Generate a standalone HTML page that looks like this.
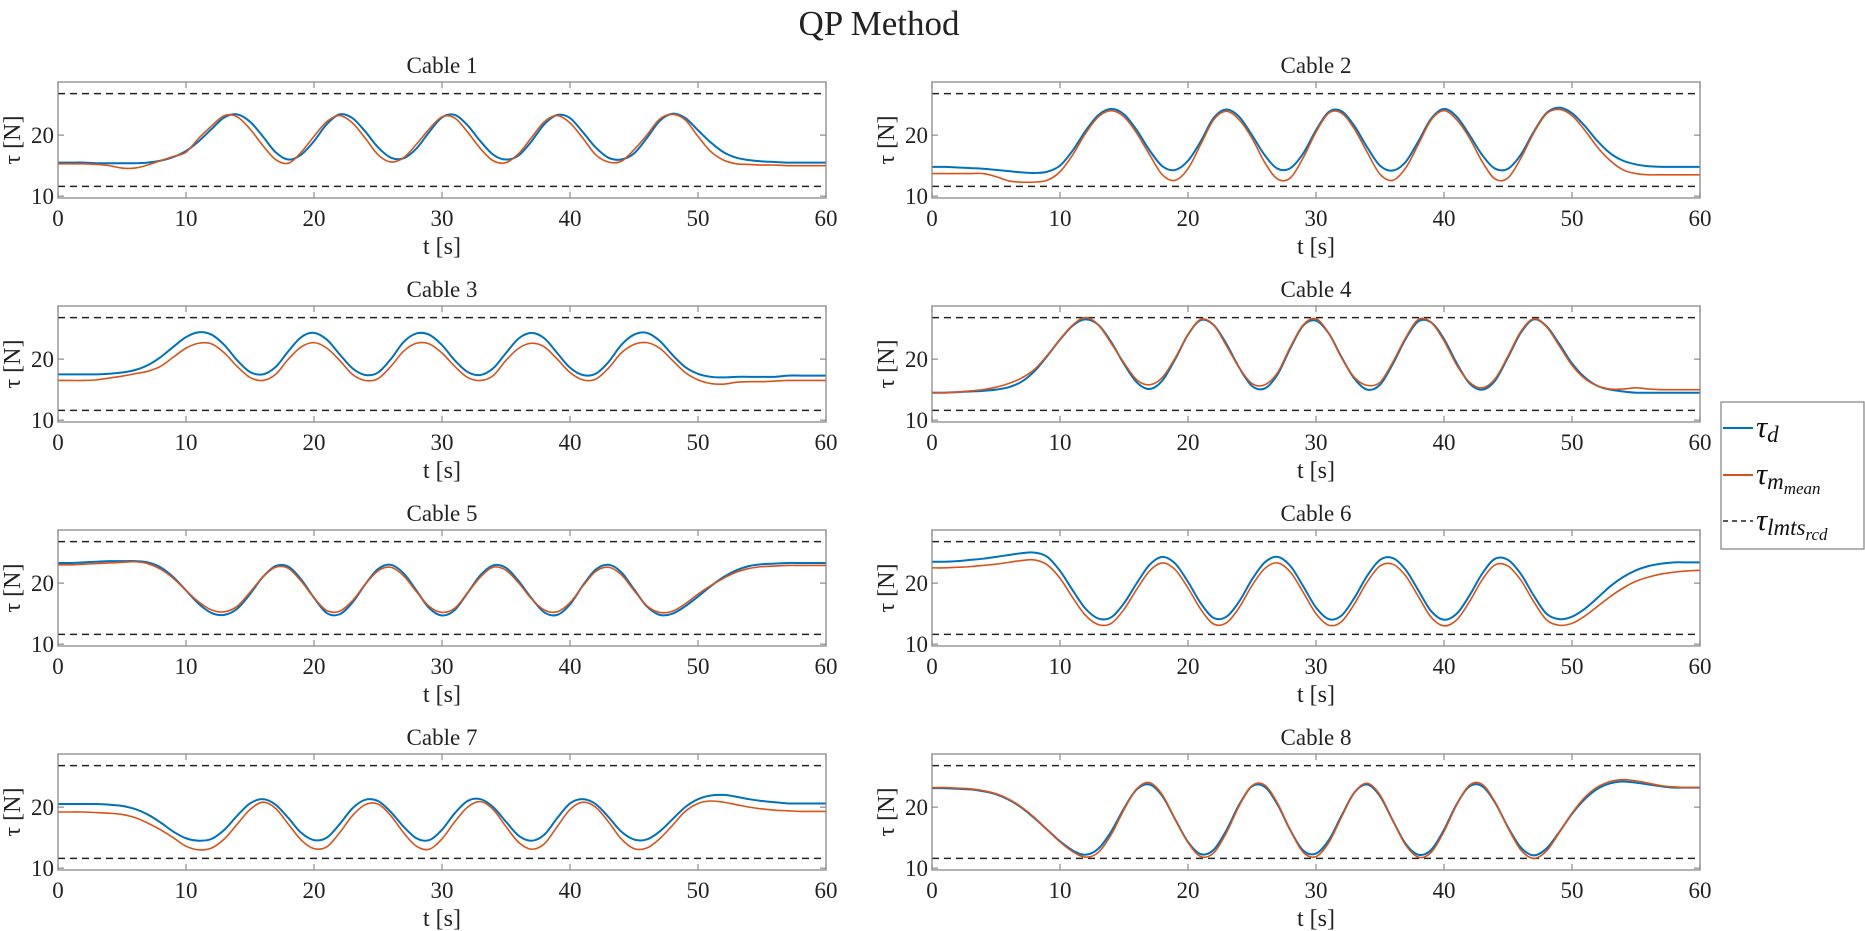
<!DOCTYPE html>
<html><head><meta charset="utf-8"><style>
html,body{margin:0;padding:0;background:#fff}
svg{display:block;font-family:"Liberation Serif",serif}
</style></head><body>
<svg id="chart" width="1865" height="931" viewBox="0 0 1865 931" xmlns="http://www.w3.org/2000/svg">
<text x="879" y="35" font-size="35" text-anchor="middle" fill="#222">QP Method</text>
<g id="plots"></g>
<g>
<rect x="1721" y="402" width="143" height="147" fill="#fff" stroke="#8a8a8a" stroke-width="1.3"/>
<g>
<line x1="1723" y1="428" x2="1753" y2="428" stroke="#0072BD" stroke-width="2"/>
<text x="1756" y="437" font-size="31" font-style="italic" fill="#111">τ<tspan font-size="23" dy="5">d</tspan></text></g>
<g>
<line x1="1723" y1="475" x2="1753" y2="475" stroke="#D95319" stroke-width="2"/>
<text x="1756" y="484" font-size="31" font-style="italic" fill="#111">τ<tspan font-size="23" dy="5">m</tspan><tspan font-size="17" dy="5">mean</tspan></text></g>
<g>
<line x1="1723" y1="521" x2="1753" y2="521" stroke="#222" stroke-width="1.5" stroke-dasharray="5,4"/>
<text x="1756" y="530" font-size="31" font-style="italic" fill="#111">τ<tspan font-size="23" dy="5">lmts</tspan><tspan font-size="17" dy="5">rcd</tspan></text></g>
</g>
</svg>
<script>
const cableNames = ["Cable 1","Cable 2","Cable 3","Cable 4","Cable 5","Cable 6","Cable 7","Cable 8"];
const xTicks = [0,10,20,30,40,50,60];
const yTicks = [10,20];
const limitUpper = 26.8;
const limitLower = 11.6;
const tSample = [0,1,2,3,4,5,6,7,8,9,10,11,12,13,14,15,16,17,18,19,20,21,22,23,24,25,26,27,28,29,30,31,32,33,34,35,36,37,38,39,40,41,42,43,44,45,46,47,48,49,50,51,52,53,54,55,56,57,58,59,60];
const desired1 = [15.5,15.5,15.5,15.4,15.4,15.4,15.4,15.5,15.8,16.4,17.4,19,21,22.9,23.4,22.2,19.8,17.2,16,16.8,19,21.8,23.4,22.8,20.6,18,16.3,16.2,17.8,20.5,22.9,23.3,21.6,19,16.8,16,16.7,19,21.8,23.3,22.8,20.5,18,16.3,16,17,19.5,22.3,23.5,22.8,20.8,18.8,17.2,16.3,15.9,15.7,15.6,15.5,15.5,15.5,15.5];
const measured1 = [15.3,15.3,15.3,15.2,15,14.6,14.6,15.1,15.8,16.5,17.2,19.5,21.5,23.2,23,21,18.3,16,15.4,17.2,19.8,22.2,23.2,22,19.5,16.8,15.6,16.3,18.5,21,23,22.8,20.5,17.8,15.8,15.5,17,19.6,22.2,23.2,22,19.5,16.8,15.6,15.7,17.6,20,22.6,23.4,22.5,19.8,17.3,15.9,15.3,15.2,15.1,15.1,15,15,15,15];
const desired2 = [14.8,14.8,14.7,14.6,14.5,14.3,14.1,13.9,13.8,14,15,17.5,20.7,23.3,24.3,23.4,20.8,17.5,14.9,14.3,15.8,19,22.8,24.2,23,20,16.7,14.5,14.6,17,20.8,23.8,23.9,21.5,18,15,14.2,15.6,19,22.7,24.3,23,20,16.7,14.5,14.5,16.8,20.5,23.6,24.5,23.6,21.5,19,17,15.8,15.2,14.9,14.8,14.8,14.8,14.8];
const measured2 = [13.7,13.7,13.7,13.7,13.7,13.2,12.5,12.3,12.3,12.6,14,16.8,20.3,23,24,23,20.3,16.8,13.5,12.6,14.5,18.5,22.5,23.9,22.5,19.5,15.5,12.8,13,16.3,20.5,23.6,23.6,21,17.2,13.6,12.6,14.6,18.5,22.5,24,22.5,19.5,15.6,12.8,13,16.2,20.3,23.5,24.2,23.2,20.8,18,15.8,14.3,13.7,13.5,13.5,13.5,13.5,13.5];
const desired3 = [17.5,17.5,17.5,17.5,17.6,17.8,18.2,19,20.3,22,23.6,24.4,24,22.3,19.8,17.9,17.5,18.7,21.3,23.6,24.3,23.2,20.8,18.5,17.4,17.8,20,22.8,24.2,24,22.3,19.8,17.9,17.4,18.5,21,23.4,24.3,23.4,21,18.6,17.4,17.6,19.5,22.3,24,24.3,23,20.7,18.7,17.6,17.1,17,17.1,17.1,17.1,17.1,17.3,17.3,17.3,17.3];
const measured3 = [16.5,16.5,16.5,16.6,16.9,17.2,17.6,18,18.8,20.3,21.8,22.6,22.5,21,18.8,17,16.5,17.5,20,22,22.7,21.8,19.8,17.5,16.5,16.8,18.8,21.3,22.6,22.5,21,18.8,17,16.5,17.3,19.8,21.8,22.6,22,20,17.8,16.6,16.7,18.5,21,22.4,22.7,21.8,19.8,17.8,16.6,16,15.9,16.2,16.3,16.3,16.4,16.5,16.5,16.5,16.5];
const desired4 = [14.5,14.5,14.6,14.7,14.8,15,15.4,16.3,18,20.5,23.2,25.5,26.5,25.6,22.8,19.2,16.2,15.1,16.5,20,24,26.4,25.6,22.5,18.6,15.6,15.2,17.5,21.8,25.5,26.3,24.2,20.3,16.8,15,15.8,19.2,23.3,26.2,26,23.3,19.3,16,15,16.5,20.3,24.3,26.5,25.4,22.5,19.3,17,15.6,15,14.7,14.5,14.5,14.5,14.5,14.5,14.5];
const measured4 = [14.5,14.5,14.6,14.8,15,15.4,16,16.9,18.3,20.6,23.2,25.6,26.8,25.6,22.6,19.4,16.6,15.8,17,20.2,24,26.5,25.6,22.2,18.6,16,15.8,17.8,22,25.6,26.6,24.2,20.2,17,15.7,16.2,19.5,23.5,26.5,26,23,19,16.2,15.3,16.8,20.5,24.5,26.6,25.3,22.2,19,16.8,15.6,15.1,15.1,15.3,15.1,15,15,15,15];
const desired5 = [23.3,23.3,23.4,23.5,23.6,23.6,23.6,23.4,22.6,21,18.8,16.6,15.1,14.8,15.8,18.2,21,22.8,22.7,20.6,17.6,15.1,14.9,16.8,19.8,22.3,23,21.6,18.8,15.9,14.7,15.6,18.4,21.3,22.9,22.5,20.3,17.5,15.2,14.8,16.5,19.6,22.2,23,21.8,19,16.2,14.8,15,16.2,17.8,19.5,21,22.1,22.8,23.1,23.2,23.3,23.3,23.3,23.3];
const measured5 = [23,23,23.1,23.2,23.3,23.4,23.5,23.2,22.3,20.8,18.8,16.9,15.6,15.3,16.2,18.5,21,22.6,22.4,20.3,17.6,15.5,15.4,17.1,19.8,22,22.6,21.2,18.6,16.2,15.2,15.9,18.4,21,22.6,22.1,20,17.4,15.6,15.3,16.8,19.5,21.9,22.6,21.4,18.8,16.3,15.2,15.4,16.6,18.2,19.6,20.8,21.8,22.4,22.7,22.8,22.9,22.9,22.9,22.9];
const desired6 = [23.5,23.5,23.6,23.8,24,24.3,24.6,24.9,25,24.3,22,18.8,15.8,14.2,14.4,16.7,20,23,24.3,23.2,20.2,16.7,14.3,14.5,17,20.6,23.4,24.3,22.8,19.5,16,14.1,14.7,17.6,21.2,23.8,24.1,22.2,18.8,15.4,14,15,18,21.6,24,23.8,21.5,18,15,14.1,14.5,15.8,17.6,19.5,21,22.1,22.8,23.2,23.4,23.4,23.4];
const measured6 = [22.5,22.5,22.6,22.7,22.9,23.1,23.4,23.7,23.8,23,20.8,17.6,14.7,13.2,13.4,15.7,19,22,23.3,22.2,19.2,15.7,13.3,13.5,16,19.6,22.4,23.3,21.8,18.5,15,13.1,13.7,16.6,20.2,22.8,23.1,21.2,17.8,14.4,13,14,17,20.6,23,22.8,20.5,17,14,13.1,13.4,14.6,16.2,17.8,19.2,20.3,21,21.5,21.8,22,22.1];
const desired7 = [20.5,20.5,20.5,20.5,20.4,20.2,19.7,18.8,17.5,16,14.9,14.5,14.8,16.3,18.6,20.6,21.3,20.4,18.2,15.8,14.6,15,17.2,19.8,21.2,21,19.2,16.8,14.9,14.6,16.3,19,21,21.3,20,17.6,15.3,14.5,15.5,18.2,20.6,21.3,20.5,18.4,16,14.7,14.7,16,18,20,21.3,21.9,22,21.7,21.3,21,20.8,20.6,20.6,20.6,20.6];
const measured7 = [19.2,19.2,19.2,19.1,19,18.8,18.3,17.4,16.3,15,13.6,13,13.3,14.8,17.2,19.6,20.8,19.8,17.2,14.6,13.2,13.5,15.8,18.6,20.4,20.5,18.6,15.8,13.6,13.1,14.8,17.6,20,20.9,19.6,16.8,14.2,13.1,14,16.8,19.6,20.8,20,17.6,14.8,13.2,13.3,14.8,17,19.3,20.6,21,20.8,20.4,20,19.7,19.5,19.4,19.3,19.3,19.3];
const desired8 = [23.1,23.1,23,22.9,22.6,22.1,21.2,19.9,18.2,16.3,14.4,12.9,12.2,13.2,16,19.8,22.9,23.7,21.8,18,14.3,12.3,13,16.2,20.4,23.4,23.3,20.4,16.2,12.9,12.4,14.6,18.6,22.4,23.7,21.8,17.8,14,12.2,13,16.3,20.5,23.4,23.4,20.7,16.7,13.4,12.1,13.2,15.9,18.9,21.3,23,23.9,24.2,24,23.7,23.4,23.2,23.2,23.2];
const measured8 = [23.2,23.2,23.1,23,22.7,22.2,21.3,20,18.3,16.3,14.3,12.7,11.8,12.6,15.5,19.6,23,24,22,18,14.2,11.9,12.5,15.8,20.2,23.5,23.6,20.6,16.2,12.6,11.9,14.2,18.4,22.4,23.9,22,17.8,13.8,11.8,12.6,16,20.4,23.6,23.7,20.8,16.6,13,11.6,12.8,15.8,19,21.6,23.3,24.2,24.5,24.3,23.9,23.5,23.3,23.2,23.2];
const desiredAll = [desired1,desired2,desired3,desired4,desired5,desired6,desired7,desired8];
const measuredAll = [measured1,measured2,measured3,measured4,measured5,measured6,measured7,measured8];

const NS = "http://www.w3.org/2000/svg";
const plots = document.getElementById('plots');
const X0 = 0, X1 = 60, Y0 = 9.7, Y1 = 28.7;
const colLeft = [58, 932], axW = 768, axH = 116, rowTop = 82, rowStep = 224;
function mk(tag, attrs, parent){ const e=document.createElementNS(NS,tag); for(const k in attrs) e.setAttribute(k,attrs[k]); parent.appendChild(e); return e; }
function smoothPath(pts){
  let d = "M"+pts[0][0].toFixed(2)+","+pts[0][1].toFixed(2);
  for(let i=0;i<pts.length-1;i++){
    const p0=pts[Math.max(0,i-1)], p1=pts[i], p2=pts[i+1], p3=pts[Math.min(pts.length-1,i+2)];
    const c1x=p1[0]+(p2[0]-p0[0])/6, c1y=p1[1]+(p2[1]-p0[1])/6;
    const c2x=p2[0]-(p3[0]-p1[0])/6, c2y=p2[1]-(p3[1]-p1[1])/6;
    d+="C"+c1x.toFixed(2)+","+c1y.toFixed(2)+" "+c2x.toFixed(2)+","+c2y.toFixed(2)+" "+p2[0].toFixed(2)+","+p2[1].toFixed(2);
  }
  return d;
}
cableNames.forEach((name, i) => {
  const col = i % 2, row = Math.floor(i / 2);
  const L = colLeft[col], T = rowTop + rowStep*row, B = T + axH, R = L + axW;
  const sx = v => L + (v - X0) / (X1 - X0) * axW;
  const sy = v => B - (v - Y0) / (Y1 - Y0) * axH;
  const g = mk('g', {}, plots);
  
  
  const ttl = mk('text', {x:(L+R)/2, y:T-9, 'font-size':23, 'text-anchor':'middle', fill:'#222'}, g);
  ttl.textContent = name;
  
  
  const clipId = 'clip'+i;
  const cp = mk('clipPath', {id:clipId}, g);
  mk('rect', {x:L, y:T, width:axW, height:axH}, cp);
  [limitUpper, limitLower].forEach(v => {
    const ln = mk('line', {x1:L, x2:R, y1:sy(v), y2:sy(v), stroke:'#222', 'stroke-width':1.5, 'stroke-dasharray':'7,5'}, g);
    
    
  });
  const dPts = tSample.map((t,k)=>[sx(t), sy(desiredAll[i][k])]);
  const mPts = tSample.map((t,k)=>[sx(t), sy(measuredAll[i][k])]);
  const lb = mk('path', {d:smoothPath(dPts), fill:'none', stroke:'#0072BD', 'stroke-width':2, 'clip-path':'url(#'+clipId+')'}, g);
  
  
  const lo = mk('path', {d:smoothPath(mPts), fill:'none', stroke:'#D95319', 'stroke-width':1.6, 'clip-path':'url(#'+clipId+')'}, g);
  
  
  const box = mk('rect', {x:L, y:T, width:axW, height:axH, fill:'none', stroke:'#8a8a8a', 'stroke-width':1.3}, g);
  
  
  xTicks.forEach(v => {
    const x = sx(v);
    mk('line', {x1:x, x2:x, y1:B, y2:B-6, stroke:'#8a8a8a', 'stroke-width':1.2}, g);
    mk('line', {x1:x, x2:x, y1:T, y2:T+6, stroke:'#8a8a8a', 'stroke-width':1.2}, g);
    const tl = mk('text', {x:x, y:B+28, 'font-size':23, 'text-anchor':'middle', fill:'#222'}, g);
    tl.textContent = v;
    
    
  });
  yTicks.forEach(v => {
    const y = sy(v);
    mk('line', {x1:L, x2:L+6, y1:y, y2:y, stroke:'#8a8a8a', 'stroke-width':1.2}, g);
    mk('line', {x1:R, x2:R-6, y1:y, y2:y, stroke:'#8a8a8a', 'stroke-width':1.2}, g);
    const tl = mk('text', {x:L-4, y:y+8, 'font-size':23, 'text-anchor':'end', fill:'#222'}, g);
    tl.textContent = v;
    
    
  });
  const xl = mk('text', {x:(L+R)/2, y:B+56, 'font-size':24, 'text-anchor':'middle', fill:'#222'}, g);
  xl.textContent = 't [s]';
  
  
  const yl = mk('text', {x:0, y:0, 'font-size':24, 'text-anchor':'middle', fill:'#222', transform:'translate('+(L-38)+','+(T+axH/2)+') rotate(-90)'}, g);
  yl.textContent = 'τ [N]';
  
  
});
</script>
</body></html>
